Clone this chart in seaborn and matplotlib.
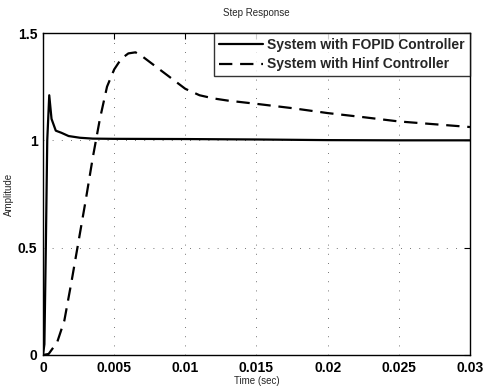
import pandas as pd
import matplotlib
matplotlib.use("Agg")
import matplotlib.pyplot as plt
import seaborn as sns

# Step response samples
fopid_t = [0, 0.0001, 0.0002, 0.0003, 0.00044, 0.0006, 0.0009, 0.0013, 0.0018,
           0.0026, 0.0035, 0.005, 0.01, 0.015, 0.02, 0.025, 0.03]
fopid_y = [0, 0.05, 0.5, 1.0, 1.21, 1.10, 1.045, 1.035, 1.02,
           1.012, 1.008, 1.007, 1.006, 1.004, 1.001, 1.0, 1.0]

hinf_t = [0, 0.0004, 0.001, 0.0015, 0.002, 0.0025, 0.003, 0.0035, 0.004, 0.0045,
          0.005, 0.0055, 0.006, 0.0065, 0.007, 0.008, 0.009, 0.01, 0.011, 0.012,
          0.013, 0.015, 0.0175, 0.02, 0.0225, 0.025, 0.0275, 0.03]
hinf_y = [0, 0.005, 0.06, 0.16, 0.34, 0.53, 0.72, 0.92, 1.1, 1.25,
          1.33, 1.38, 1.405, 1.41, 1.39, 1.34, 1.29, 1.24, 1.21, 1.195,
          1.185, 1.17, 1.15, 1.127, 1.108, 1.088, 1.075, 1.062]

labels = ["System with FOPID Controller", "System with Hinf Controller"]
x_ticks = [0, 0.005, 0.01, 0.015, 0.02, 0.025, 0.03]
x_tick_labels = ["0", "0.005", "0.01", "0.015", "0.02", "0.025", "0.03"]
y_ticks = [0, 0.5, 1, 1.5]
y_tick_labels = ["0", "0.5", "1", "1.5"]

df = pd.concat([
    pd.DataFrame({"t": fopid_t, "y": fopid_y, "sys": labels[0]}),
    pd.DataFrame({"t": hinf_t, "y": hinf_y, "sys": labels[1]}),
])

sns.set_style("white")
plt.rcParams["font.family"] = ["Liberation Sans", "DejaVu Sans"]

fig = plt.figure(figsize=(4.84, 3.92), dpi=100)
ax = fig.add_axes([0.0888, 0.0944, 0.8822, 0.8214])

sns.lineplot(data=df, x="t", y="y", hue="sys", style="sys",
             palette=["black", "black"], dashes=[(None, None), (6, 3.5)],
             linewidth=1.6, ax=ax, sort=False)

ax.set_xlim(0, 0.03)
ax.set_ylim(0, 1.5)
ax.set_xticks(x_ticks)
ax.set_xticklabels(x_tick_labels, fontweight="bold", fontsize=10)
ax.set_yticks(y_ticks)
ax.set_yticklabels(y_tick_labels, fontweight="bold", fontsize=10)
ax.tick_params(direction="in", length=4, width=0.8, top=True, right=True,
               colors="black", pad=4)
ax.grid(True, linestyle=(0, (1, 10)), color="#444444", linewidth=0.6)
for s in ax.spines.values():
    s.set_color("black")
    s.set_linewidth(1.0)

ax.set_xlabel("Time (sec)", fontsize=7, labelpad=1)
ax.set_ylabel("Amplitude", fontsize=7)
ax.yaxis.set_label_coords(-0.068, 0.5)
ax.set_title("Step Response", fontsize=7, pad=12)

leg = ax.legend(loc="upper right", frameon=True, fancybox=False,
                prop={"weight": "bold", "size": 10}, handlelength=3.2,
                borderaxespad=0, borderpad=0.35, labelspacing=0.4, handletextpad=0.3)
leg.get_frame().set_edgecolor("black")
leg.get_frame().set_linewidth(1.0)
leg.set_title(None)

fig.savefig("out.png", dpi=100)
